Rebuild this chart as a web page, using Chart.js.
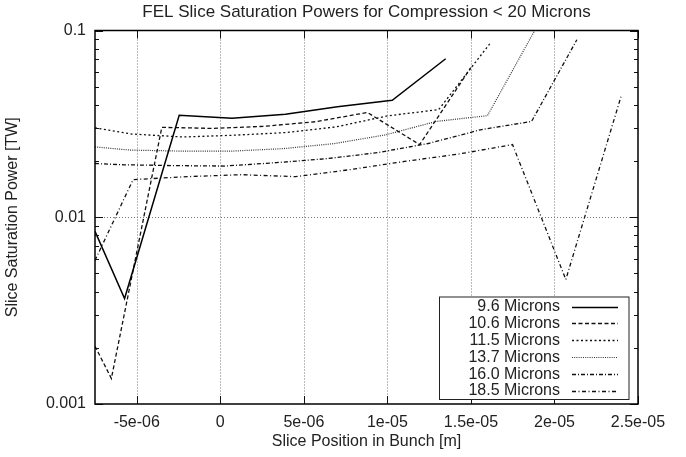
<!DOCTYPE html>
<html>
<head>
<meta charset="utf-8">
<script src="https://cdn.jsdelivr.net/npm/chart.js@4.4.0/dist/chart.umd.min.js"></script>
<style>
  body { margin: 0; background: #fff; }
  #wrap { width: 686px; height: 457px; }
</style>
</head>
<body>
<div id="wrap"><canvas id="myChart"></canvas></div>
<script>
// slice position [m] and saturation power [TW] for each compression
const pos96  = [-7.5e-6, -5.73e-6, -2.46e-6, 0.70e-6, 3.90e-6, 7.01e-6, 10.29e-6, 13.49e-6];
const pow96  = [0.0084, 0.00367, 0.0352, 0.0339, 0.0356, 0.0391, 0.0423, 0.0706];

const pos106 = [-7.5e-6, -6.52e-6, -3.50e-6, -0.42e-6, 2.64e-6, 5.73e-6, 8.80e-6, 11.93e-6, 14.99e-6];
const pow106 = [0.00204, 0.00137, 0.0303, 0.0299, 0.0307, 0.0325, 0.0364, 0.0245, 0.0632];

const pos115 = [-7.5e-6, -5.28e-6, -2.22e-6, 0.84e-6, 3.90e-6, 6.95e-6, 10.01e-6, 13.07e-6, 16.13e-6];
const pow115 = [0.0301, 0.0279, 0.0269, 0.0275, 0.0284, 0.0305, 0.0349, 0.0377, 0.0849];

const pos137 = [-7.5e-6, -5.41e-6, -2.36e-6, 0.70e-6, 3.76e-6, 6.82e-6, 9.87e-6, 12.93e-6, 15.99e-6, 19.0e-6];
const pow137 = [0.0238, 0.0229, 0.0226, 0.0226, 0.0233, 0.0248, 0.0276, 0.0326, 0.0350, 0.107];

const pos160 = [-7.5e-6, -5.83e-6, -2.78e-6, 0.28e-6, 3.34e-6, 6.40e-6, 9.45e-6, 12.51e-6, 15.57e-6, 18.63e-6, 21.34e-6];
const pow160 = [0.0194, 0.0191, 0.0189, 0.0188, 0.0196, 0.0206, 0.0222, 0.0249, 0.0294, 0.0326, 0.0892];

const pos185 = [-7.5e-6, -5.22e-6, -1.98e-6, 1.26e-6, 4.50e-6, 7.79e-6, 11.03e-6, 14.27e-6, 17.49e-6, 20.68e-6, 23.98e-6];
const pow185 = [0.00587, 0.0159, 0.0165, 0.0169, 0.0165, 0.0180, 0.0199, 0.0218, 0.0245, 0.00464, 0.0442];

const seriesLabels = ['9.6 Microns', '10.6 Microns', '11.5 Microns', '13.7 Microns', '16.0 Microns', '18.5 Microns'];

const xTickVals = [-5e-6, 0, 5e-6, 1e-5, 1.5e-5, 2e-5, 2.5e-5];
const xTickLabels = ['-5e-06', '0', '5e-06', '1e-05', '1.5e-05', '2e-05', '2.5e-05'];
const yTickVals = [0.001, 0.01, 0.1];
const yTickLabels = ['0.001', '0.01', '0.1'];

const chartTitle = 'FEL Slice Saturation Powers for Compression < 20 Microns';

const FONT = '"Liberation Sans", Arial, sans-serif';
const TXT = '#222';

function pts(xs, ys) {
    return xs.map(function(v, i) { return { x: v, y: ys[i] }; });
}

function isMajorY(v) {
    return yTickVals.findIndex(function(t) { return Math.abs(t - v) / t < 1e-6; });
}

// gnuplot like frame, grid, inward ticks, title and legend
const framePlugin = {
    id: 'frame',
    beforeDatasetsDraw: function(chart) {
        const ctx = chart.ctx, a = chart.chartArea;
        const x = chart.scales.x, y = chart.scales.y;
        ctx.save();
        ctx.strokeStyle = '#777';
        ctx.lineWidth = 1;
        ctx.setLineDash([1, 2]);
        xTickVals.forEach(function(v) {
            const px = Math.round(x.getPixelForValue(v)) + 0.5;
            if (px > a.left + 2 && px < a.right - 2) {
                ctx.beginPath(); ctx.moveTo(px, a.top); ctx.lineTo(px, a.bottom); ctx.stroke();
            }
        });
        yTickVals.forEach(function(v) {
            const py = Math.round(y.getPixelForValue(v)) + 0.5;
            if (py > a.top + 2 && py < a.bottom - 2) {
                ctx.beginPath(); ctx.moveTo(a.left, py); ctx.lineTo(a.right, py); ctx.stroke();
            }
        });
        ctx.restore();
    },
    afterDatasetsDraw: function(chart) {
        const ctx = chart.ctx, a = chart.chartArea;
        const x = chart.scales.x, y = chart.scales.y;
        ctx.save();
        ctx.setLineDash([]);
        ctx.strokeStyle = '#111';
        ctx.lineWidth = 1;
        // ticks on the y axis (left and right)
        y.ticks.forEach(function(t) {
            const len = isMajorY(t.value) >= 0 ? 8 : 4;
            const py = Math.round(y.getPixelForValue(t.value)) + 0.5;
            ctx.beginPath();
            ctx.moveTo(a.left, py); ctx.lineTo(a.left + len, py);
            ctx.moveTo(a.right, py); ctx.lineTo(a.right - len, py);
            ctx.stroke();
        });
        // ticks on the x axis (bottom and top)
        xTickVals.forEach(function(v) {
            const px = Math.round(x.getPixelForValue(v)) + 0.5;
            ctx.beginPath();
            ctx.moveTo(px, a.bottom); ctx.lineTo(px, a.bottom - 8);
            ctx.moveTo(px, a.top); ctx.lineTo(px, a.top + 8);
            ctx.stroke();
        });
        // frame
        ctx.lineWidth = 1.5;
        ctx.strokeStyle = '#000';
        ctx.strokeRect(a.left, a.top, a.right - a.left, a.bottom - a.top);

        // title, centred over the plot
        ctx.fillStyle = TXT;
        ctx.font = '17px ' + FONT;
        ctx.textAlign = 'center';
        ctx.textBaseline = 'middle';
        ctx.fillText(chartTitle, (a.left + a.right) / 2, 12.5);

        // legend box
        const bx = a.right - 199, by = a.bottom - 107.5, bw = 189.5, bh = 102.5;
        ctx.fillStyle = '#fff';
        ctx.fillRect(bx, by, bw, bh);
        ctx.lineWidth = 1;
        ctx.strokeStyle = '#222';
        ctx.strokeRect(bx + 0.5, by + 0.5, bw, bh);
        ctx.font = '16px ' + FONT;
        ctx.textAlign = 'right';
        chart.data.datasets.forEach(function(ds, i) {
            const ry = by + 10 + i * 16.9;
            ctx.fillStyle = TXT;
            ctx.fillText(ds.label, a.right - 78, ry);
            ctx.strokeStyle = ds.borderColor;
            ctx.lineWidth = ds.borderWidth;
            ctx.setLineDash(ds.borderDash || []);
            ctx.beginPath();
            ctx.moveTo(a.right - 66, Math.round(ry) + 0.5);
            ctx.lineTo(a.right - 20, Math.round(ry) + 0.5);
            ctx.stroke();
        });
        ctx.restore();
    }
};

const ctx = document.getElementById('myChart').getContext('2d');
new Chart(ctx, {
    type: 'line',
    data: {
        datasets: [
            { label: seriesLabels[0], data: pts(pos96, pow96), borderColor: '#000', borderWidth: 1.5, borderDash: [] },
            { label: seriesLabels[1], data: pts(pos106, pow106), borderColor: '#111', borderWidth: 1.3, borderDash: [4, 2.5] },
            { label: seriesLabels[2], data: pts(pos115, pow115), borderColor: '#111', borderWidth: 1.3, borderDash: [2, 2.5] },
            { label: seriesLabels[3], data: pts(pos137, pow137), borderColor: '#333', borderWidth: 1.2, borderDash: [1, 1.2] },
            { label: seriesLabels[4], data: pts(pos160, pow160), borderColor: '#111', borderWidth: 1.3, borderDash: [4, 2, 1, 2] },
            { label: seriesLabels[5], data: pts(pos185, pow185), borderColor: '#111', borderWidth: 1.3, borderDash: [4, 2.5, 1, 2.5] }
        ]
    },
    options: {
        responsive: true,
        maintainAspectRatio: false,
        animation: false,
        layout: { padding: { left: 0, right: 48, top: 30.5, bottom: 0 } },
        elements: {
            point: { radius: 0 },
            line: { tension: 0, fill: false }
        },
        datasets: { line: { clip: 0 } },
        plugins: {
            legend: { display: false },
            tooltip: { enabled: false },
            title: { display: false }
        },
        scales: {
            x: {
                type: 'linear',
                min: -7.5e-6,
                max: 2.5e-5,
                afterBuildTicks: function(s) { s.ticks = xTickVals.map(function(v) { return { value: v }; }); },
                afterFit: function(s) { s.height = 53; },
                ticks: {
                    autoSkip: false,
                    maxRotation: 0,
                    padding: 9,
                    color: TXT,
                    font: { family: FONT, size: 16 },
                    callback: function(v, i) { return xTickLabels[i]; }
                },
                grid: { display: false, drawTicks: false },
                border: { display: false },
                title: {
                    display: true,
                    text: 'Slice Position in Bunch [m]',
                    color: TXT,
                    font: { family: FONT, size: 16 },
                    padding: { top: 0, bottom: 6 }
                }
            },
            y: {
                type: 'logarithmic',
                min: 0.001,
                max: 0.1,
                afterBuildTicks: function(s) {
                    const t = [];
                    for (let d = 0; d < yTickVals.length - 1; d++) {
                        for (let k = 1; k < 10; k++) t.push({ value: k * yTickVals[d] });
                    }
                    t.push({ value: yTickVals[yTickVals.length - 1] });
                    s.ticks = t;
                },
                afterFit: function(s) { s.width = 95; },
                ticks: {
                    autoSkip: false,
                    padding: 9,
                    color: TXT,
                    font: { family: FONT, size: 16 },
                    callback: function(v) {
                        const i = isMajorY(v);
                        return i >= 0 ? yTickLabels[i] : '';
                    }
                },
                grid: { display: false, drawTicks: false },
                border: { display: false },
                title: {
                    display: true,
                    text: 'Slice Saturation Power [TW]',
                    color: TXT,
                    font: { family: FONT, size: 16 },
                    padding: { top: 3, bottom: 0 }
                }
            }
        }
    },
    plugins: [framePlugin]
});
</script>
</body>
</html>
